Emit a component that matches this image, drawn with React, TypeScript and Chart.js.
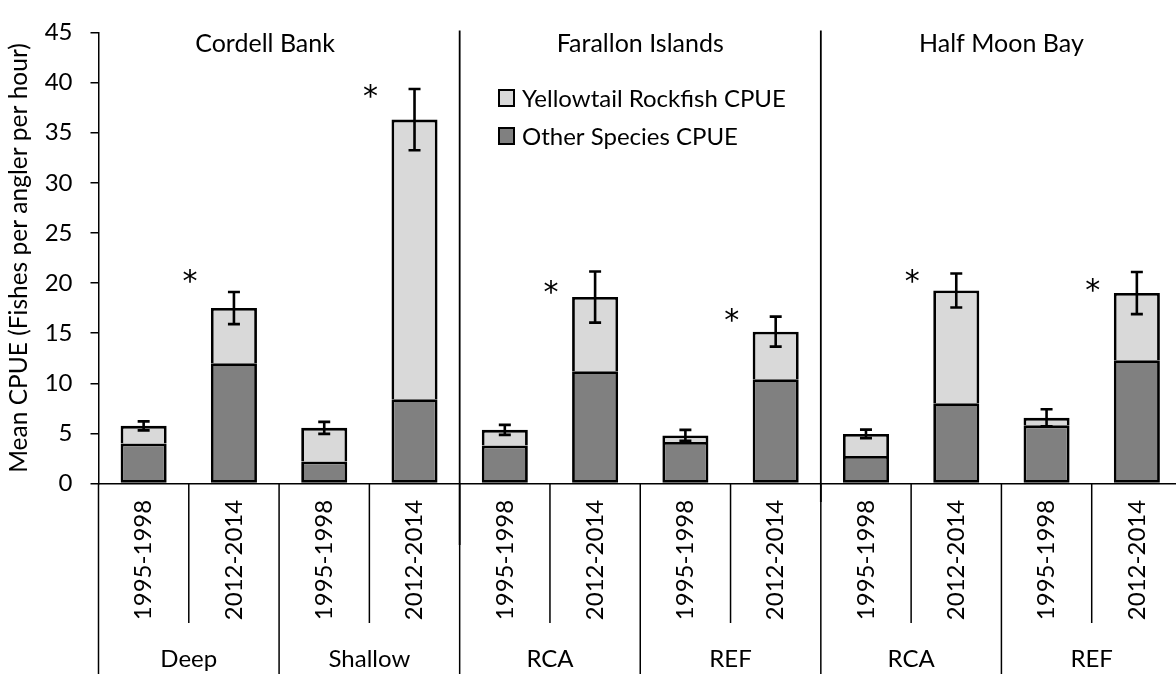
import React, { useEffect, useRef } from 'react';
import { Chart, registerables } from 'chart.js';

Chart.register(...registerables);

// ---- data ----
const categories = [
  '1995-1998', '2012-2014', '1995-1998', '2012-2014',
  '1995-1998', '2012-2014', '1995-1998', '2012-2014',
  '1995-1998', '2012-2014', '1995-1998', '2012-2014',
];
const subGroups = ['Deep', 'Shallow', 'RCA', 'REF', 'RCA', 'REF'];
const regions = ['Cordell Bank', 'Farallon Islands', 'Half Moon Bay'];
const otherSpecies = [4.0, 12.0, 2.2, 8.4, 3.8, 11.2, 4.15, 10.4, 2.75, 8.0, 5.8, 12.3];
const totalCPUE = [5.75, 17.5, 5.55, 36.3, 5.35, 18.6, 4.8, 15.15, 4.95, 19.25, 6.55, 19.0];
const errorCPUE = [0.45, 1.6, 0.6, 3.05, 0.5, 2.55, 0.55, 1.5, 0.42, 1.7, 0.85, 2.1];
const asteriskAt = [null, 20.7, null, 39.2, null, 19.6, null, 16.8, null, 20.7, null, 19.8];
const yTitle = 'Mean CPUE (Fishes per angler per hour)';
const seriesNames = ['Other Species CPUE', 'Yellowtail Rockfish CPUE'];

const FONT = 'Lato, "Open Sans", sans-serif';
const FS = 24;

export default function App() {
  const ref = useRef<HTMLCanvasElement>(null);

  useEffect(() => {
    const canvas = ref.current;
    if (!canvas) return;
    const yellowtail = totalCPUE.map((t, i) => +(t - otherSpecies[i]).toFixed(3));

    const overlay = {
      id: 'overlay',
      afterDatasetsDraw(chart: any) {
        const { ctx, scales } = chart;
        const x = scales.x, y = scales.y;
        ctx.save();
        ctx.strokeStyle = '#000';
        ctx.lineWidth = 2.6;
        totalCPUE.forEach((t, i) => {
          const cx = x.getPixelForValue(i);
          const top = y.getPixelForValue(t + errorCPUE[i]);
          const bot = y.getPixelForValue(t - errorCPUE[i]);
          ctx.beginPath();
          ctx.moveTo(cx, top); ctx.lineTo(cx, bot);
          ctx.moveTo(cx - 6, top); ctx.lineTo(cx + 6, top);
          ctx.moveTo(cx - 6, bot); ctx.lineTo(cx + 6, bot);
          ctx.stroke();
        });
        // asterisks
        ctx.fillStyle = '#000';
        ctx.font = `30px "DejaVu Sans", ${FONT}`;
        ctx.textAlign = 'center';
        ctx.textBaseline = 'alphabetic';
        const m = ctx.measureText('*');
        const off = (m.actualBoundingBoxAscent - m.actualBoundingBoxDescent) / 2;
        asteriskAt.forEach((v, i) => {
          if (v == null) return;
          const cx = x.getPixelForValue(i) - 44;
          const cy = y.getPixelForValue(v);
          ctx.fillText('*', cx, cy + off);
        });
        ctx.restore();
      },
      afterDraw(chart: any) {
        const { ctx, chartArea: a } = chart;
        const n = categories.length;
        const w = (a.right - a.left) / n;
        ctx.save();
        ctx.strokeStyle = '#000';
        ctx.fillStyle = '#000';
        // bottom category separators
        ctx.lineWidth = 1.5;
        for (let k = 0; k <= n; k++) {
          const xx = a.left + k * w;
          ctx.beginPath();
          ctx.moveTo(xx, a.bottom);
          ctx.lineTo(xx, k % 2 === 0 ? 674 : 623);
          ctx.stroke();
        }
        // region separators
        ctx.lineWidth = 1.8;
        [[4, 545], [8, 502]].forEach(([k, end]) => {
          const xx = a.left + k * w;
          ctx.beginPath();
          ctx.moveTo(xx, a.top - 2);
          ctx.lineTo(xx, end);
          ctx.stroke();
        });
        // year labels
        ctx.font = `${FS}px ${FONT}`;
        ctx.textAlign = 'center';
        ctx.textBaseline = 'middle';
        categories.forEach((c, i) => {
          const cx = a.left + (i + 0.5) * w;
          ctx.save();
          ctx.translate(cx, 560);
          ctx.rotate(-Math.PI / 2);
          ctx.fillText(c, 0, 0);
          ctx.restore();
        });
        // sub group labels
        ctx.textBaseline = 'alphabetic';
        subGroups.forEach((g, j) => {
          const cx = a.left + (2 * j + 1) * w;
          ctx.fillText(g, cx, 667);
        });
        // region titles
        ctx.font = `${FS + 1}px ${FONT}`;
        regions.forEach((r, j) => {
          const cx = a.left + (4 * j + 2) * w - (j === 0 ? 14 : 0);
          ctx.fillText(r, cx, 52);
        });
        // legend
        ctx.font = `${FS}px ${FONT}`;
        ctx.textAlign = 'left';
        const ds = chart.data.datasets;
        const legendItems = [ds[1], ds[0]];
        legendItems.forEach((d: any, j: number) => {
          const by = 90 + j * 38;
          ctx.fillStyle = d.backgroundColor;
          ctx.fillRect(499, by, 15, 16);
          ctx.lineWidth = 2;
          ctx.strokeStyle = '#000';
          ctx.strokeRect(499, by, 15, 16);
          ctx.fillStyle = '#000';
          ctx.fillText(d.label, 522, by + 17);
        });
        ctx.restore();
      },
    };

    const chart = new Chart(canvas, {
      type: 'bar',
      data: {
        labels: categories,
        datasets: [
          {
            label: seriesNames[0],
            data: otherSpecies,
            backgroundColor: '#808080',
            borderColor: '#000',
            borderWidth: 2.8,
            borderSkipped: false,
            barPercentage: 0.51,
            categoryPercentage: 1,
          },
          {
            label: seriesNames[1],
            data: yellowtail,
            backgroundColor: '#d9d9d9',
            borderColor: '#000',
            borderWidth: 2.8,
            borderSkipped: 'bottom',
            barPercentage: 0.51,
            categoryPercentage: 1,
          },
        ],
      },
      options: {
        animation: false,
        responsive: false,
        maintainAspectRatio: false,
        layout: { padding: { top: 14.5, right: 8, left: 0, bottom: 0 } },
        plugins: { legend: { display: false }, tooltip: { enabled: false } },
        scales: {
          x: {
            stacked: true,
            grid: { display: false },
            ticks: { display: false },
            border: { display: true, color: '#000', width: 1.5 },
            afterFit: (s: any) => { s.height = 190.5; },
          },
          y: {
            stacked: true,
            min: 0,
            max: 45,
            ticks: { stepSize: 5, color: '#000', font: { family: FONT, size: FS }, padding: 18 },
            grid: { display: true, drawOnChartArea: false, drawTicks: true, tickLength: 8, color: '#000', lineWidth: 1.5 },
            border: { display: true, color: '#000', width: 1.5 },
            title: { display: true, text: yTitle, color: '#000', font: { family: FONT, size: 24.5 }, padding: { top: 4, bottom: 0 } },
            afterFit: (s: any) => { s.width = 98.5; },
          },
        },
      },
      plugins: [overlay],
    } as any);

    return () => chart.destroy();
  }, []);

  return (
    <div style={{ position: 'fixed', left: 0, top: 0, width: 1176, height: 674, overflow: 'hidden', background: '#fff' }}>
      <canvas ref={ref} width={1190} height={674} style={{ display: 'block' }} />
    </div>
  );
}
